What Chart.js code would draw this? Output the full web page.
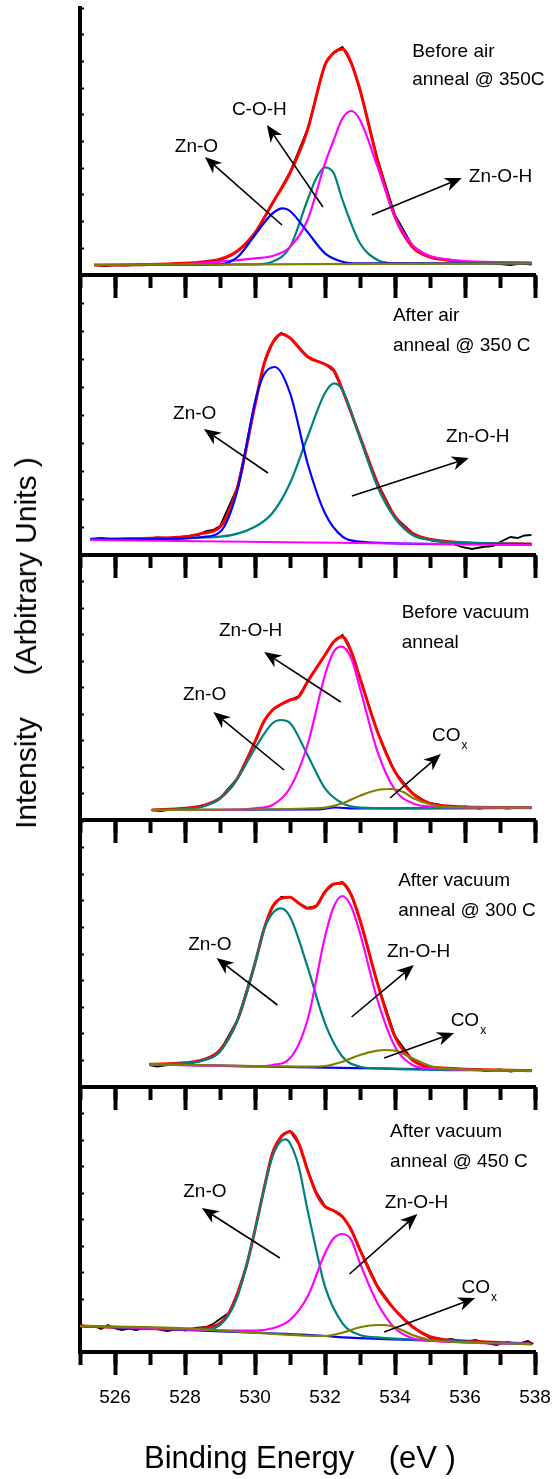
<!DOCTYPE html>
<html lang="en">
<head>
<meta charset="UTF-8">
<title>O 1s XPS - Zn-O / Zn-O-H</title>
<style>
  body { margin: 0; background: #fff; font-family: "Liberation Sans", Arial, sans-serif; }
  #wrap { position: relative; width: 553px; height: 1479px; overflow: hidden; }
  #wrap canvas { position: absolute; left: 0; top: 0; }
  .ytitle { position: absolute; left: 25.5px; top: 643px; transform: translate(-50%, -50%) rotate(-90deg);
            font-size: 30px; line-height: 1; white-space: pre; color: #000; }
  .xtitle { position: absolute; left: 300px; top: 1457px; transform: translate(-50%, -50%);
            font-size: 31px; line-height: 1; white-space: pre; color: #000; }
</style>
<script src="https://cdn.jsdelivr.net/npm/chart.js"></script>
</head>
<body>
<div id="wrap">
  <canvas id="p1" width="553" height="1479"></canvas>
  <canvas id="p2" width="553" height="1479"></canvas>
  <canvas id="p3" width="553" height="1479"></canvas>
  <canvas id="p4" width="553" height="1479"></canvas>
  <canvas id="p5" width="553" height="1479"></canvas>
  <div class="ytitle">Intensity     (Arbitrary Units )</div>
  <div class="xtitle">Binding Energy    (eV )</div>
</div>
<script>
// binding energy axis (eV)
const energyMin = 525, energyMax = 538;
const majorTicks = [526, 528, 530, 532, 534, 536, 538];
const minorTicks = [525, 526, 527, 528, 529, 530, 531, 532, 533, 534, 535, 536, 537, 538];

// ---- panel 1 : before air anneal @ 350C ----
const p1Data = [[525.4,10],[525.7,9],[526,10],[526.3,9.5],[526.7,10.5],[527,10],[527.5,11],[528,12],[528.3,11],[528.6,13],[529,15],[529.3,19],[529.6,27],[530,42],[530.5,71],[531,103],[531.5,146],[532,211],[532.25,223],[532.5,228],[532.75,212],[533,186],[533.5,116],[534,60],[534.5,29],[534.8,22],[535,18],[535.3,16],[535.6,14],[536,13],[536.5,12.5],[537,11],[537.3,10],[537.6,11.5],[537.9,10.5]];
const p1Fit = [[525.4,10],[527,10.5],[528,11.7],[528.5,13],[529,15.7],[529.5,24],[530,42],[530.5,72],[531,102],[531.5,145],[532,210],[532.25,222],[532.5,226],[532.75,212],[533,185],[533.5,115],[534,58],[534.5,28],[535,18],[535.5,15],[536,13],[537,12.3],[537.9,11.7]];
const p1ZnO = [[525.4,10],[528,10],[529,10.7],[529.5,18],[530,40],[530.5,61.7],[530.8,66.7],[531,64],[531.5,43],[532,21.7],[532.5,13.3],[533,11.7],[537.9,11.7]];
const p1COH = [[525.4,10],[530,10.7],[530.5,13.3],[531,28],[531.5,75],[531.75,96.7],[532,107.7],[532.25,101.7],[532.5,75],[533,31.7],[533.5,15],[534,11.7],[537.9,11.7]];
const p1ZnOH = [[525.4,10],[528,11],[529,13.3],[530,16.7],[530.5,19],[531,28],[531.5,55],[532,111.7],[532.25,135],[532.5,156.7],[532.75,164],[533,155],[533.5,108.3],[534,58.3],[534.5,30],[535,19],[535.5,15.7],[536,14],[537.9,12.3]];
const p1Base = [[525.4,10],[537.9,11.7]];

// ---- panel 2 : after air anneal @ 350 C ----
const p2Data = [[525.3,16],[525.6,17],[526,15.5],[526.4,16.5],[526.8,16],[527.2,17.5],[527.6,17],[528,18.5],[528.4,20],[528.6,24],[528.8,25],[529,29],[529.5,68],[530,150],[530.25,190],[530.5,212],[530.75,222],[531,217],[531.25,207],[531.5,199],[531.75,194],[532,191],[532.25,184],[532.5,165],[533,118],[533.5,72],[534,38],[534.5,22],[534.8,17],[535.1,14],[535.5,13],[535.9,8],[536.2,6],[536.5,8],[536.8,9],[537,13],[537.3,18],[537.5,17],[537.7,19.5],[537.9,20]];
const p2Fit = [[525.3,15.7],[527,16.7],[528,18.3],[528.5,21.7],[529,28],[529.5,68],[530,150],[530.25,190],[530.5,212],[530.75,221],[531,217],[531.5,198.3],[532,190.7],[532.25,185],[532.5,165],[533,118.3],[533.5,71.7],[534,38.3],[534.5,21.7],[535,15.7],[536,12.3],[537.9,11]];
const p2ZnO = [[525.3,15.7],[528,16.7],[528.5,18],[529,23],[529.5,65],[530,153],[530.25,180],[530.57,188],[531,162],[531.5,92],[532,41.7],[532.5,18.3],[533,13.3],[534,11.7],[537.9,10.5]];
const p2ZnOH = [[525.3,15.7],[527,16.3],[529,18.3],[530,28.3],[530.5,42],[531,71.7],[531.5,118],[532,162],[532.26,171.7],[532.5,165],[533,116.7],[533.5,68.3],[534,36.7],[534.5,20],[535,15],[536,12.3],[537.9,11]];
const p2Base = [[525.3,15],[537.9,10]];

// ---- panel 3 : before vacuum anneal ----
const p3Data = [[527.05,10],[527.3,9],[527.6,10.5],[527.9,10],[528.2,12],[528.5,14.5],[528.8,18],[529,22],[529.5,42],[530,78],[530.25,99],[530.5,110],[530.75,116],[531,120],[531.25,124],[531.5,138],[531.75,152],[532,165],[532.25,178],[532.5,185],[532.75,168],[533,142],[533.5,88],[534,48],[534.5,27],[534.8,20],[535,17],[535.3,15],[535.6,12],[536,13.5],[536.4,11.5],[536.8,13],[537.2,11.5],[537.6,12.5],[537.9,12]];
const p3Fit = [[527.05,10],[528,11.7],[528.5,14.3],[529,21.7],[529.5,41.7],[530,78.3],[530.25,98.3],[530.5,110],[530.75,115.7],[531,120],[531.25,123.3],[531.5,138.3],[531.75,151.7],[532,165],[532.25,178.3],[532.5,183.3],[532.75,168.3],[533,141.7],[533.5,88.3],[534,48.3],[534.5,26.7],[535,16.7],[535.5,14],[536,13],[537.9,12.3]];
const p3ZnO = [[527.05,10],[528,11],[528.5,13.3],[529,21.7],[529.5,41.7],[530,71.7],[530.5,96.7],[530.73,100],[531,97],[531.5,65],[532,31.7],[532.5,16.7],[533,12.3],[534,11.7],[537.9,12]];
const p3ZnOH = [[527.05,10],[529,10],[530,11.7],[530.5,15],[531,32],[531.5,75],[532,145],[532.25,168.3],[532.47,173.3],[532.75,161.7],[533,131.7],[533.5,68.3],[534,30],[534.5,16.7],[535,13.3],[536,12.7],[537.9,12.3]];
const p3COx = [[527.05,10],[531.5,11.5],[532,12.3],[532.5,16.7],[533,24.3],[533.5,30],[533.9,31],[534.25,27.7],[534.5,22.3],[535,15.7],[535.5,13],[537.9,12.3]];
const p3Low = [[527.05,10],[531.8,10.5],[532.3,12.5],[532.8,11.5],[537.9,12.3]];

// ---- panel 4 : after vacuum anneal @ 300 C ----
const p4Data = [[526.98,22],[527.2,20.5],[527.5,22],[527.8,23],[528.1,22.5],[528.3,25],[528.6,27.5],[528.8,30],[529,36],[529.5,67],[530,124],[530.25,157],[530.5,180],[530.75,190],[531,190],[531.25,184],[531.5,179],[531.75,181],[532,195],[532.25,203],[532.5,205],[532.75,192],[533,167],[533.5,104],[534,51],[534.5,27],[534.8,21],[535,20],[535.3,17.5],[535.6,19],[536,17],[536.3,18],[536.6,16],[537,17.5],[537.3,15.5],[537.6,17],[537.9,17]];
const p4Fit = [[526.98,22.7],[528,24.3],[528.5,27],[529,37],[529.5,67],[530,123.7],[530.25,157],[530.5,180.3],[530.75,188.7],[531,189.7],[531.25,183.7],[531.5,178.7],[531.75,181],[532,195.3],[532.25,203],[532.5,203.7],[532.75,192],[533,167],[533.5,103.7],[534,50.3],[534.5,27],[535,20.3],[535.5,18.7],[536,17.7],[537.9,16.3]];
const p4ZnO = [[526.98,22.7],[528,23.7],[528.5,26.3],[529,35.3],[529.5,67],[530,123.7],[530.25,157],[530.5,173.7],[530.74,178.7],[531,170.3],[531.5,120.3],[532,63.7],[532.5,30.3],[533,20.3],[533.5,18.7],[537.9,16.3]];
const p4ZnOH = [[526.98,22.7],[529,21],[530,20.3],[530.5,22],[531,28.7],[531.5,67],[532,150.3],[532.25,180.3],[532.5,191],[532.75,180.3],[533,153.7],[533.5,87],[534,40.3],[534.5,22],[535,18.7],[537.9,16.3]];
const p4COx = [[526.98,22.7],[530,21],[531.5,20.3],[532,21],[532.5,25.3],[533,32],[533.5,36.3],[533.7,37],[534,36.3],[534.5,28.7],[535,21],[535.5,18.3],[537.9,16.3]];
const p4Low = [[526.98,22.7],[532,19.3],[537.9,16.3]];

// ---- panel 5 : after vacuum anneal @ 450 C ----
const p5Data = [[525,26.5],[525.2,25],[525.4,26],[525.6,23],[525.8,27],[526,23.5],[526.2,22],[526.4,23.5],[526.6,22],[526.9,24.5],[527.2,23],[527.5,21],[527.8,23],[528,21.5],[528.3,24],[528.6,25],[528.8,28],[529,33],[529.25,39],[529.5,59],[529.75,85],[530,122],[530.25,162],[530.5,199],[530.75,216],[531,221],[531.25,208],[531.5,182],[531.75,160],[532,146],[532.25,141],[532.5,135],[532.75,123],[533,103],[533.5,66],[534,42],[534.5,25],[534.8,18],[535,14],[535.3,11],[535.6,13],[536,10],[536.3,12],[536.6,9],[536.9,7],[537.2,10],[537.5,8],[537.8,11],[537.95,8]];
const p5Fit = [[525,26],[528,22.7],[528.5,23.7],[529,28.7],[529.25,38.7],[529.5,58.7],[529.75,85.3],[530,122],[530.25,162],[530.5,198.7],[530.75,215.3],[531,220.3],[531.25,208.7],[531.5,182],[531.75,158.7],[532,145.3],[532.25,141.3],[532.5,135.3],[532.75,122],[533,102],[533.5,65.3],[534,42],[534.5,25.3],[535,15.3],[535.5,12],[536,11],[537.9,8]];
const p5ZnO = [[525,26],[528.5,22.7],[529,27],[529.5,55.3],[530,122],[530.25,162],[530.5,195.3],[530.75,211.3],[530.88,212.7],[531,208.7],[531.25,185.3],[531.5,142],[531.75,102],[532,65.3],[532.5,28.7],[533,17],[533.5,14.7],[534,13.3],[537.9,8]];
const p5ZnOH = [[525,26],[530,21.3],[530.5,23.7],[531,32],[531.5,55.3],[532,98.7],[532.25,113.7],[532.5,118],[532.75,112],[533,88.7],[533.5,48.7],[534,23.7],[534.5,13.7],[535,11.3],[537.9,8]];
const p5COx = [[525,26],[528,23.7],[530,19.3],[532,16],[532.5,19.3],[533,24.7],[533.5,27],[533.7,27],[534,24.7],[534.5,17],[535,12],[537.9,8]];
const p5Low = [[525,26],[530,19.3],[532,16],[532.5,14.7],[534,12.7],[537.9,8]];

// labels [text, eV, intensity, subscript] and arrows [tailE, tailI, headE, headI]
const p1Notes = [['Before air',534.49,218],['anneal @ 350C',534.49,190],['C-O-H',529.34,160],['Zn-O',527.71,123],['Zn-O-H',536.11,93]];
const p1Arrows = [[530.77,50,528.57,118],[531.94,68,530.34,150],[533.34,60,535.91,97]];
const p2Notes = [['After air',533.94,234],['anneal @ 350 C',533.94,204],['Zn-O',527.66,136],['Zn-O-H',535.46,113]];
const p2Arrows = [[530.37,82,528.54,126],[532.77,59,536.11,97]];
const p3Notes = [['Before vacuum',534.19,202],['anneal',534.19,172],['Zn-O-H',528.97,184],['Zn-O',527.94,120],['CO',535.06,79,'x']];
const p3Arrows = [[532.45,118,530.26,168],[530.83,50,528.81,108],[533.86,22,535.31,66]];
const p4Notes = [['After vacuum',534.09,201],['anneal @ 300 C',534.09,171],['Zn-O',528.09,137],['Zn-O-H',533.77,130],['CO',535.59,61,'x']];
const p4Arrows = [[530.64,82,528.9,129],[532.76,70,534.54,122],[533.69,29,535.69,54]];
const p5Notes = [['After vacuum',533.86,215],['anneal @ 450 C',533.86,185],['Zn-O',527.95,155],['Zn-O-H',533.71,144],['CO',535.9,59,'x']];
const p5Arrows = [[530.71,94,528.48,144],[532.7,78,534.64,138],[533.69,20,536.29,54]];

const BLUE = '#0000ff', TEAL = '#008080', MAGENTA = '#ff00ff', OLIVE = '#808000', RED = '#ff0000';
const FONT = '"Liberation Sans", Arial, sans-serif';
const LABEL_BAND = 60; // room under the last panel for the tick labels

const panels = [
  { id: 'p1', top: 8, bottom: 275, notes: p1Notes, arrows: p1Arrows,
    lines: [[p1Base, OLIVE], [p1ZnO, BLUE], [p1ZnOH, MAGENTA], [p1COH, TEAL]], fit: p1Fit, data: p1Data },
  { id: 'p2', top: 275, bottom: 555, notes: p2Notes, arrows: p2Arrows,
    lines: [[p2Base, MAGENTA], [p2ZnO, BLUE], [p2ZnOH, TEAL]], fit: p2Fit, data: p2Data },
  { id: 'p3', top: 555, bottom: 820, notes: p3Notes, arrows: p3Arrows,
    lines: [[p3COx, OLIVE], [p3ZnOH, MAGENTA], [p3ZnO, TEAL], [p3Low, BLUE]], fit: p3Fit, data: p3Data },
  { id: 'p4', top: 821, bottom: 1087, notes: p4Notes, arrows: p4Arrows,
    lines: [[p4COx, OLIVE], [p4ZnOH, MAGENTA], [p4ZnO, TEAL], [p4Low, BLUE]], fit: p4Fit, data: p4Data },
  { id: 'p5', top: 1087, bottom: 1352, notes: p5Notes, arrows: p5Arrows,
    lines: [[p5COx, OLIVE], [p5ZnOH, MAGENTA], [p5ZnO, TEAL], [p5Low, BLUE]], fit: p5Fit, data: p5Data }
];

function drawArrow(ctx, x1, y1, x2, y2) {
  const a = Math.atan2(y2 - y1, x2 - x1);
  const ux = Math.cos(a), uy = Math.sin(a);
  const L = 17, W = 7, notch = 5;
  ctx.lineWidth = 1.6;
  ctx.beginPath();
  ctx.moveTo(x1, y1);
  ctx.lineTo(x2 - ux * (L - notch), y2 - uy * (L - notch));
  ctx.stroke();
  ctx.beginPath();
  ctx.moveTo(x2, y2);
  ctx.lineTo(x2 - ux * L - uy * W, y2 - uy * L + ux * W);
  ctx.lineTo(x2 - ux * (L - notch), y2 - uy * (L - notch));
  ctx.lineTo(x2 - ux * L + uy * W, y2 - uy * L - ux * W);
  ctx.closePath();
  ctx.fill();
}

function makePanel(p, idx) {
  const H = p.bottom - p.top;
  const last = idx === panels.length - 1;
  const band = last ? LABEL_BAND : 0;

  const datasets = p.lines.map(([pts, col]) => ({
    data: pts, borderColor: col, borderWidth: 2.2, pointRadius: 0,
    cubicInterpolationMode: 'monotone', fill: false
  }));
  datasets.push({ data: p.fit, borderColor: RED, borderWidth: 3, pointRadius: 0, cubicInterpolationMode: 'monotone' });
  datasets.push({ data: p.data, borderColor: '#000', borderWidth: 1.8, pointRadius: 0, tension: 0 });

  new Chart(document.getElementById(p.id), {
    type: 'line',
    data: { datasets },
    options: {
      responsive: false,
      animation: false,
      devicePixelRatio: 1,
      layout: { padding: { left: 80, right: 18, top: p.top, bottom: 1479 - p.bottom - band } },
      plugins: { legend: { display: false }, tooltip: { enabled: false } },
      scales: {
        // minor ticks sit next to the plot, major ticks (with labels) share the same line
        xm: {
          type: 'linear', position: 'bottom', weight: 0, min: energyMin, max: energyMax,
          afterBuildTicks: s => { s.ticks = minorTicks.map(v => ({ value: v })); },
          afterFit: s => { s.height = 0; },
          border: { display: false },
          grid: { drawOnChartArea: false, drawTicks: true, tickLength: 13, tickWidth: 4, color: '#000' },
          ticks: { display: false }
        },
        x: {
          type: 'linear', position: 'bottom', weight: 1, min: energyMin, max: energyMax,
          afterBuildTicks: s => { s.ticks = majorTicks.map(v => ({ value: v })); },
          afterFit: s => { s.height = band; },
          border: { display: true, width: 4, color: '#000' },
          grid: { drawOnChartArea: false, drawTicks: true, tickLength: 23, tickWidth: 4, color: '#000' },
          // padding 0 keeps the plot full width; the tall line height pushes labels down instead
          ticks: { display: last, autoSkip: false, maxRotation: 0, padding: 0, color: '#000',
                   font: { family: FONT, size: 19, lineHeight: '45px' } }
        },
        y: {
          min: 0, max: H,
          afterBuildTicks: s => { s.ticks = Array.from({ length: 11 }, (_, k) => ({ value: H * k / 10 })); },
          afterFit: s => { s.width = 0; },
          border: { display: true, width: 4, color: '#000' },
          grid: { drawOnChartArea: false, drawTicks: true, tickLength: -4, tickWidth: 2, color: '#000' },
          ticks: { display: false }
        }
      }
    },
    plugins: [{
      id: 'notes' + idx,
      afterDatasetsDraw(chart) {
        const ctx = chart.ctx, xs = chart.scales.x, ys = chart.scales.y;
        ctx.save();
        ctx.fillStyle = '#000';
        ctx.strokeStyle = '#000';
        p.arrows.forEach(a => drawArrow(ctx, xs.getPixelForValue(a[0]), ys.getPixelForValue(a[1]),
                                             xs.getPixelForValue(a[2]), ys.getPixelForValue(a[3])));
        ctx.textAlign = 'left';
        ctx.textBaseline = 'alphabetic';
        p.notes.forEach(n => {
          const x = xs.getPixelForValue(n[1]), y = ys.getPixelForValue(n[2]);
          ctx.font = '19px ' + FONT;
          ctx.fillText(n[0], x, y);
          if (n[3]) {
            const w = ctx.measureText(n[0]).width;
            ctx.font = '12px ' + FONT;
            ctx.fillText(n[3], x + w + 1, y + 8);
          }
        });
        ctx.restore();
      }
    }]
  });
}

panels.forEach(makePanel);
</script>
</body>
</html>
